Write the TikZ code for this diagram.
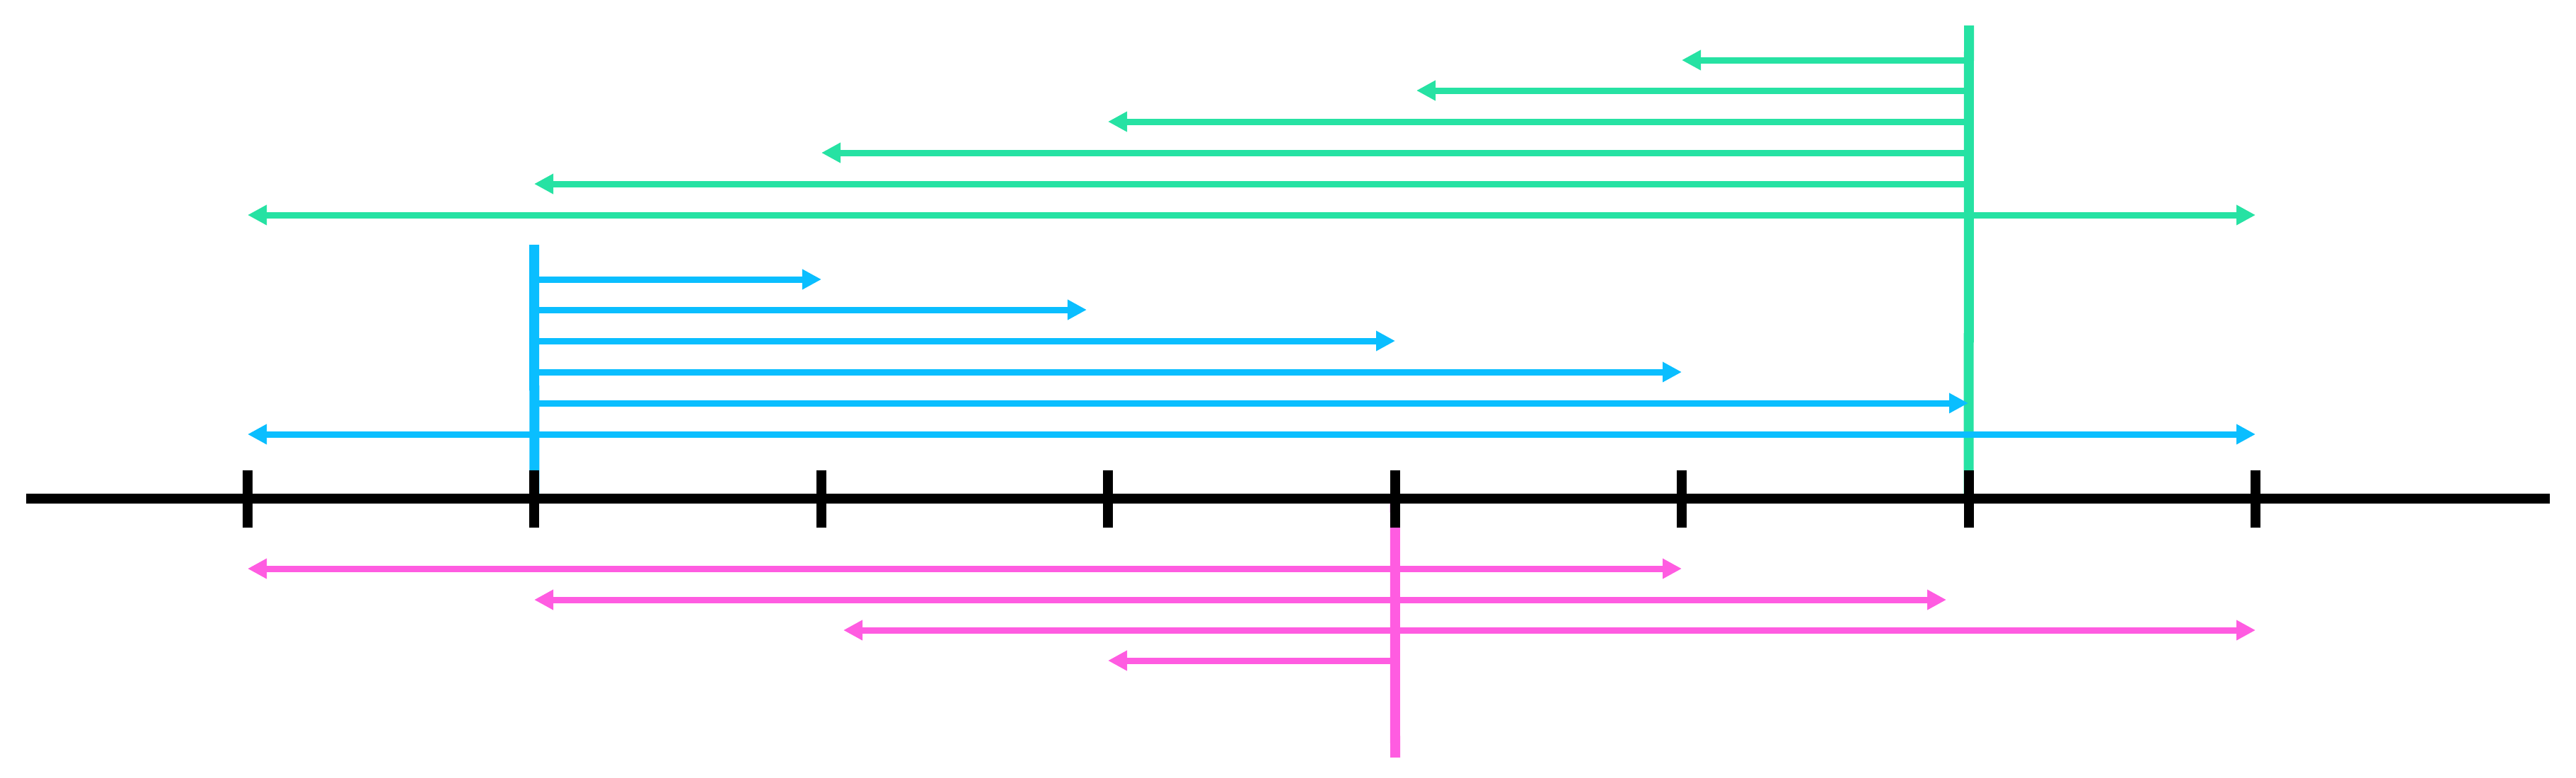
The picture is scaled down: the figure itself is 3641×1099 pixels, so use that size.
\documentclass[tikz,border=0pt]{standalone}
\usetikzlibrary{arrows.meta}
\definecolor{mint}{RGB}{38,226,163}
\definecolor{sky}{RGB}{10,190,255}
\definecolor{rose}{RGB}{255,92,225}

\begin{document}
\begin{tikzpicture}[
 x=0.01cm, y=-0.01cm,
 bar/.style={line width=0.14cm},
 ray/.style={line width=0.09cm, -{Triangle[length=0.27cm, width=0.27cm]}},
 tworay/.style={line width=0.09cm, {Triangle[length=0.27cm, width=0.27cm]}-{Triangle[length=0.27cm, width=0.27cm]}}
]
\useasboundingbox (0,0) rectangle (3641,1099);

\foreach \i in {1,...,8} {
 \coordinate (t\i) at ({350+405.43*(\i-1)},705);
 \coordinate (tu\i) at ({350+405.43*(\i-1)},665);
 \coordinate (td\i) at ({350+405.43*(\i-1)},746);
}
\coordinate (axisL) at (37,705);
\coordinate (axisR) at (3604,705);

% green
\coordinate (gtop) at (2783,36);
\draw[bar, mint] (gtop) -- (t7);
\foreach \y/\x [count=\k] in {85/2377, 128/2002, 172/1566, 216/1161, 260/755} {
 \coordinate (gs\k) at (2783,\y);
 \coordinate (ge\k) at (\x,\y);
 \draw[ray, mint] (gs\k) -- (ge\k);
}
\coordinate (gl) at (350,304);
\coordinate (gr) at (3188,304);
\draw[tworay, mint] (gl) -- (gr);

% blue
\coordinate (btop) at (755,346);
\draw[bar, sky] (btop) -- (t2);
\foreach \y/\x [count=\k] in {395/1161, 438/1536, 482/1972, 526/2377, 570/2782} {
 \coordinate (bs\k) at (755,\y);
 \coordinate (be\k) at (\x,\y);
 \draw[ray, sky] (bs\k) -- (be\k);
}
\coordinate (bl) at (350,614);
\coordinate (br) at (3188,614);
\draw[tworay, sky] (bl) -- (br);

% pink
\coordinate (pbot) at (1972,1071);
\draw[bar, rose] (t5) -- (pbot);
\foreach \y/\l/\r [count=\k] in {804/350/2377, 848/755/2751, 891/1192/3188} {
 \coordinate (ps\k) at (1972,\y);
 \coordinate (pl\k) at (\l,\y);
 \coordinate (pr\k) at (\r,\y);
 \draw[ray, rose] (ps\k) -- (pl\k);
 \draw[ray, rose] (ps\k) -- (pr\k);
}
\coordinate (ps4) at (1972,934);
\coordinate (pl4) at (1566,934);
\draw[ray, rose] (ps4) -- (pl4);

% axis
\draw[bar] (axisL) -- (axisR);
\foreach \i in {1,...,8}
 \draw[bar] (tu\i) -- (td\i);
\end{tikzpicture}
\end{document}
